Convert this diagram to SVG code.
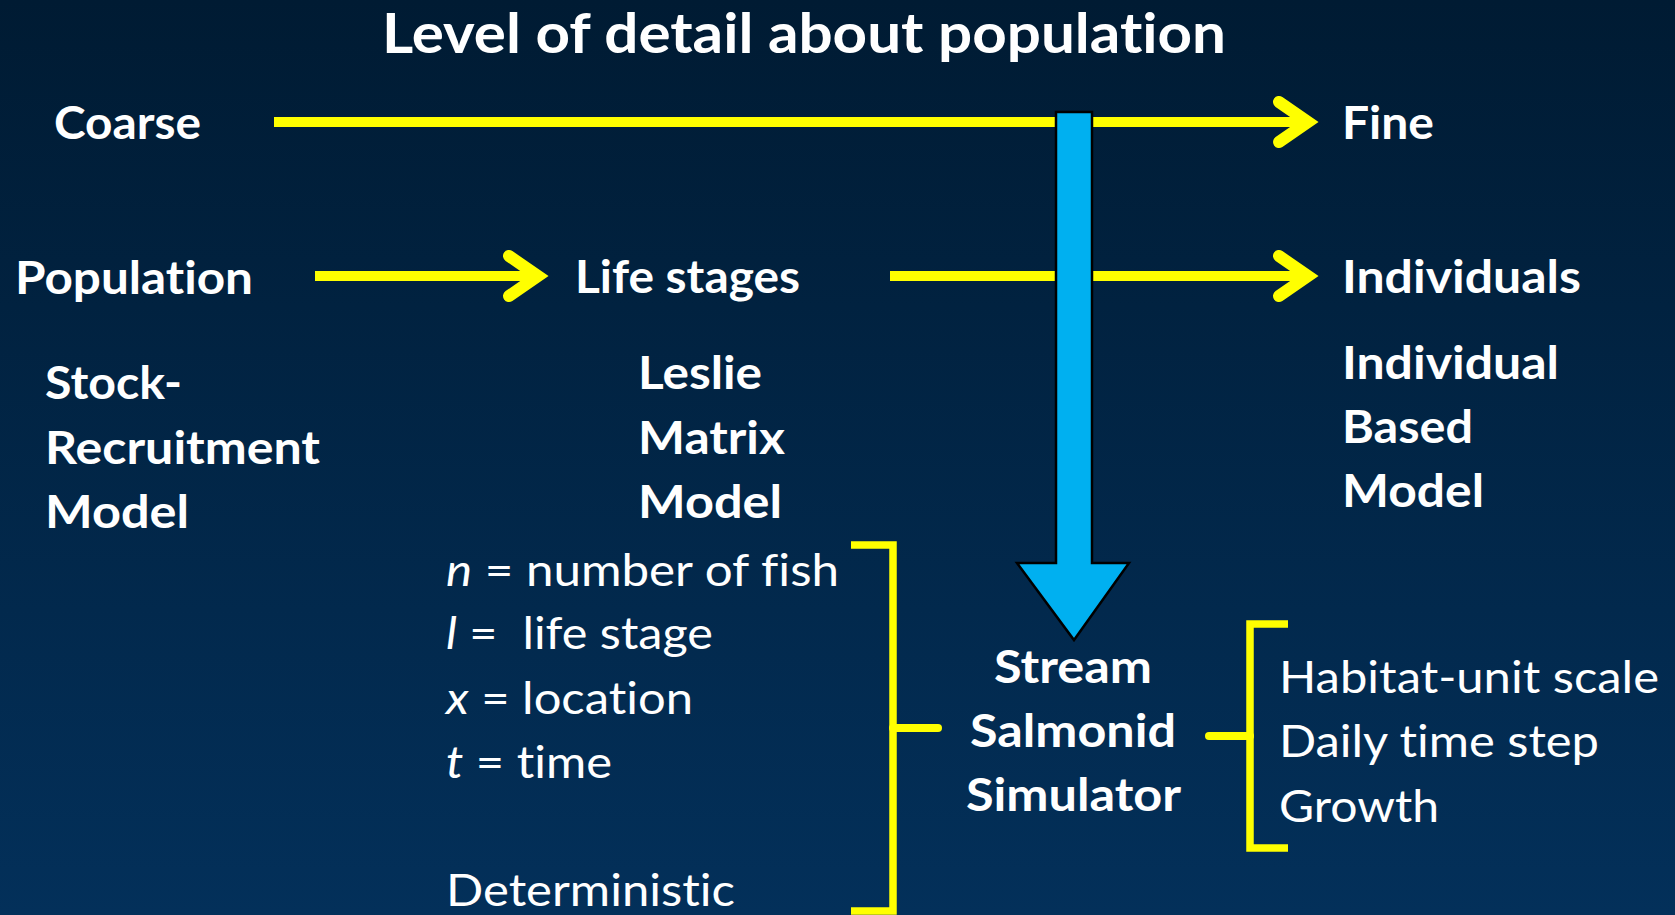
<svg xmlns="http://www.w3.org/2000/svg" width="1675" height="915" viewBox="0 0 1675 915">
  <defs>
    <linearGradient id="bg" x1="0" y1="0" x2="0" y2="1">
      <stop offset="0" stop-color="#001b33"/>
      <stop offset="1" stop-color="#03305a"/>
    </linearGradient>
    <style>
      text { font-family: Lato, "Open Sans", "Liberation Sans", sans-serif; fill: #ffffff; font-variant-ligatures: none; font-feature-settings: "liga" 0, "dlig" 0, "clig" 0; }
      .title { font-size: 56px; font-weight: 700; }
      .b { font-size: 45px; font-weight: 700; }
      .r { font-size: 45px; font-weight: 400; }
      .i { font-style: italic; }
      .yline { stroke: #ffff00; stroke-width: 10; fill: none; }
      .chev { stroke: #ffff00; stroke-width: 12; fill: none; stroke-linecap: round; stroke-linejoin: miter; stroke-miterlimit: 10; }
      .brk { stroke: #ffff00; stroke-width: 7.5; fill: none; stroke-linejoin: miter; }
      .tick { stroke: #ffff00; stroke-width: 8; fill: none; stroke-linecap: round; }
      .blue { fill: #00b0f0; stroke: #000000; stroke-width: 2.5; }
    </style>
  </defs>

  <rect width="1675" height="915" fill="url(#bg)"/>

  <g id="title">
    <text class="title" x="382" y="53" textLength="844" lengthAdjust="spacingAndGlyphs">Level of detail about population</text>
  </g>

  <!-- arrows, pointer and braces -->
  <g id="connectors">
    <line class="yline" x1="274" y1="122" x2="1308" y2="122"/>
    <polyline class="chev" points="1279,102 1308,122 1279,142"/>
    <line class="yline" x1="315" y1="276" x2="538" y2="276"/>
    <polyline class="chev" points="509,256 538,276 509,296"/>
    <line class="yline" x1="890" y1="276" x2="1308" y2="276"/>
    <polyline class="chev" points="1279,256 1308,276 1279,296"/>
    <path class="blue" d="M1056,112 H1092 V563 H1129 L1074,640 L1017,563 H1056 Z"/>
    <path class="brk" d="M851,545 H893 V911 H851"/>
    <line class="tick" x1="893" y1="728" x2="938" y2="728"/>
    <path class="brk" d="M1288,624 H1250 V848 H1288"/>
    <line class="tick" x1="1250" y1="736" x2="1209" y2="736"/>
  </g>

  <g id="coarse"><text class="b" x="54" y="139" textLength="147" lengthAdjust="spacingAndGlyphs">Coarse</text></g>
  <g id="fine"><text class="b" x="1342" y="139" textLength="92" lengthAdjust="spacingAndGlyphs">Fine</text></g>

  <g id="population"><text class="b" x="15" y="294" textLength="238" lengthAdjust="spacingAndGlyphs">Population</text></g>
  <g id="life-stages"><text class="b" x="575" y="293" textLength="225" lengthAdjust="spacingAndGlyphs">Life stages</text></g>
  <g id="individuals"><text class="b" x="1342" y="293" textLength="239" lengthAdjust="spacingAndGlyphs">Individuals</text></g>

  <g id="stock-recruitment">
    <text class="b" x="45" y="399" textLength="137" lengthAdjust="spacingAndGlyphs">Stock-</text>
    <text class="b" x="45" y="464" textLength="275" lengthAdjust="spacingAndGlyphs">Recruitment</text>
    <text class="b" x="45" y="528" textLength="144" lengthAdjust="spacingAndGlyphs">Model</text>
  </g>

  <g id="leslie-matrix">
    <text class="b" x="638" y="389" textLength="124" lengthAdjust="spacingAndGlyphs">Leslie</text>
    <text class="b" x="638" y="454" textLength="147" lengthAdjust="spacingAndGlyphs">Matrix</text>
    <text class="b" x="638" y="518" textLength="144" lengthAdjust="spacingAndGlyphs">Model</text>
  </g>

  <g id="individual-based">
    <text class="b" x="1342" y="379" textLength="217" lengthAdjust="spacingAndGlyphs">Individual</text>
    <text class="b" x="1342" y="443" textLength="131" lengthAdjust="spacingAndGlyphs">Based</text>
    <text class="b" x="1342" y="507" textLength="142" lengthAdjust="spacingAndGlyphs">Model</text>
  </g>

  <g id="variables">
    <text class="r" x="446" y="586" textLength="393" lengthAdjust="spacingAndGlyphs"><tspan class="i">n</tspan> = number of fish</text>
    <text class="r" x="446" y="649" textLength="267" lengthAdjust="spacingAndGlyphs" xml:space="preserve"><tspan class="i">l</tspan> =  life stage</text>
    <text class="r" x="446" y="714" textLength="247" lengthAdjust="spacingAndGlyphs"><tspan class="i">x</tspan> = location</text>
    <text class="r" x="446" y="778" textLength="166" lengthAdjust="spacingAndGlyphs"><tspan class="i">t</tspan> = time</text>
    <text class="r" x="446" y="906" textLength="289" lengthAdjust="spacingAndGlyphs">Deterministic</text>
  </g>

  <g id="s3">
    <text class="b" x="994" y="683" textLength="158" lengthAdjust="spacingAndGlyphs">Stream</text>
    <text class="b" x="970" y="747" textLength="206" lengthAdjust="spacingAndGlyphs">Salmonid</text>
    <text class="b" x="966" y="811" textLength="215" lengthAdjust="spacingAndGlyphs">Simulator</text>
  </g>

  <g id="features">
    <text class="r" x="1279" y="693" textLength="380" lengthAdjust="spacingAndGlyphs">Habitat-unit scale</text>
    <text class="r" x="1279" y="757" textLength="320" lengthAdjust="spacingAndGlyphs">Daily time step</text>
    <text class="r" x="1279" y="822" textLength="160" lengthAdjust="spacingAndGlyphs">Growth</text>
  </g>
</svg>
